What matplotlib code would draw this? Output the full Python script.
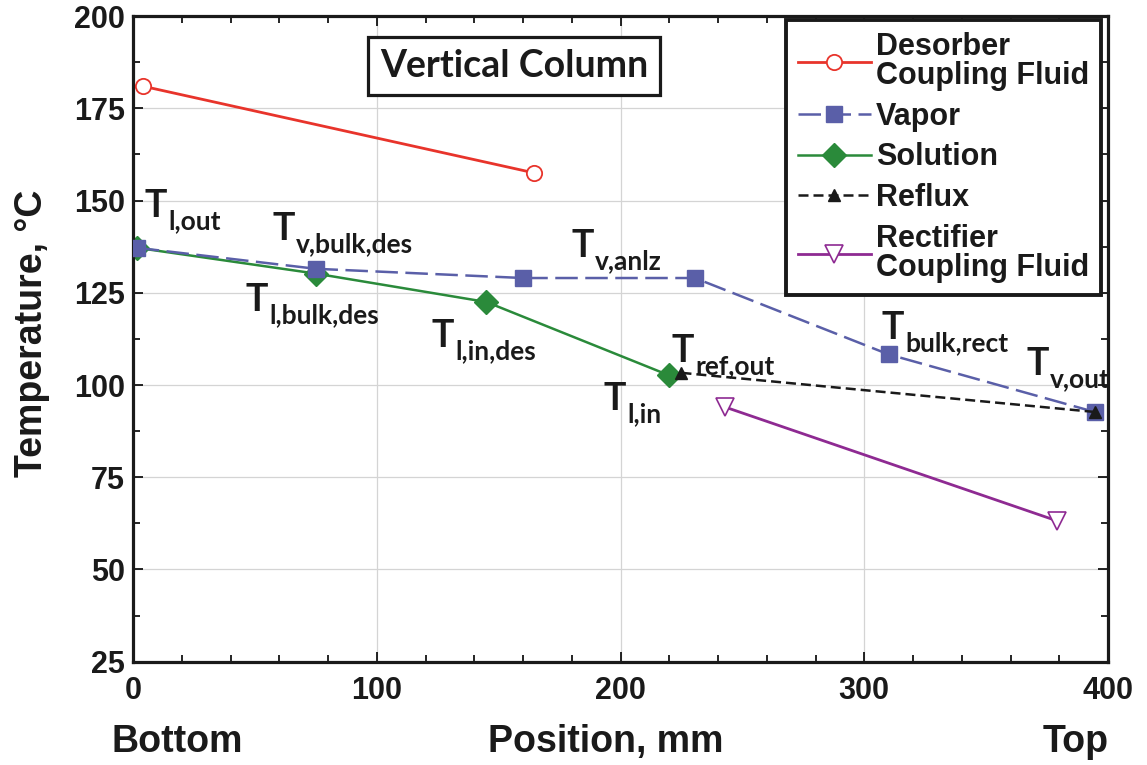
import matplotlib
matplotlib.use("Agg")
import matplotlib.pyplot as plt
from matplotlib.ticker import MultipleLocator
from matplotlib.transforms import offset_copy

plt.rcParams['font.family'] = ['Liberation Sans', 'DejaVu Sans']

# ---- data ----
des_x = [4, 164.5]
des_y = [181, 157.5]

vap_x = [1.5, 75, 160, 230.5, 310, 394.5]
vap_y = [137.2, 131.5, 129.0, 129.0, 108.3, 92.7]

sol_x = [1.5, 75, 145, 220]
sol_y = [137.2, 130.2, 122.5, 102.6]

ref_x = [225, 394.5]
ref_y = [103.3, 92.7]

rect_x = [243, 379]
rect_y = [94, 63.2]

labels = ["Desorber\nCoupling Fluid", "Vapor", "Solution", "Reflux",
          "Rectifier\nCoupling Fluid"]

ann_subs = ["l,out", "v,bulk,des", "l,bulk,des", "v,anlz", "l,in,des",
            "ref,out", "l,in", "bulk,rect", "v,out"]
ann_x = [4.9, 57.4, 46.3, 179.7, 122.6, 221.1, 193.2, 307.2, 366.7]
ann_y = [145.5, 139.3, 120.1, 134.7, 110.3, 106.2, 93.2, 112.5, 102.7]

xticks = [0, 100, 200, 300, 400]
yticks = [25, 50, 75, 100, 125, 150, 175, 200]

# ---- figure ----
fig = plt.figure(figsize=(11.47, 7.65), dpi=100)
ax = fig.add_axes([0.116, 0.135, 0.850, 0.844])

c_red = '#E8342B'
c_vap = '#5A5FA8'
c_sol = '#2A8A3A'
c_ref = '#1a1a1a'
c_rect = '#8E2A92'
ink = '#1a1a1a'

ax.plot(des_x, des_y, color=c_red, lw=2.0, marker='o', ms=11,
        mfc='white', mec=c_red, mew=1.3, label=labels[0], zorder=4)
ax.plot(vap_x, vap_y, color=c_vap, lw=1.8, dashes=(9, 3), marker='s', ms=11,
        mfc=c_vap, mec=c_vap, label=labels[1], zorder=3)
ax.plot(sol_x, sol_y, color=c_sol, lw=1.8, marker='D', ms=12,
        mfc=c_sol, mec=c_sol, label=labels[2], zorder=2)
ax.plot(ref_x, ref_y, color=c_ref, lw=1.8, dashes=(4, 2), marker='^', ms=8,
        mfc=c_ref, mec=c_ref, label=labels[3], zorder=5)
ax.plot(rect_x, rect_y, color=c_rect, lw=2.0, marker='v', ms=13,
        mfc='white', mec=c_rect, mew=1.2, label=labels[4], zorder=4)

ax.set_xlim(0, 400)
ax.set_ylim(25, 200)
ax.set_xticks(xticks)
ax.set_yticks(yticks)
ax.xaxis.set_minor_locator(MultipleLocator(20))
ax.yaxis.set_minor_locator(MultipleLocator(12.5))
ax.grid(True, which='major', color='#d4d4d4', lw=0.9)
ax.set_axisbelow(True)
ax.tick_params(which='both', direction='in', top=True, right=True)
ax.tick_params(which='major', length=7, width=1.2, labelsize=22, pad=6)
ax.tick_params(axis='x', which='major', pad=10)
ax.tick_params(which='minor', length=5, width=1.2)
for lab in ax.get_xticklabels() + ax.get_yticklabels():
    lab.set_fontweight('bold')
    lab.set_color(ink)
for sp in ax.spines.values():
    sp.set_linewidth(2.3)
    sp.set_color(ink)

# annotations: big "T" with a separate subscript text
renderer = fig.canvas.get_renderer()
for sub, x, y in zip(ann_subs, ann_x, ann_y):
    t = ax.text(x, y, "T", fontsize=27, family='Lato', fontweight='bold',
                ha='left', va='baseline', color=ink, zorder=6)
    w = t.get_window_extent(renderer).width
    tr = offset_copy(ax.transData, fig=fig, x=w + 1, y=-12, units='dots')
    ax.text(x, y, sub, fontsize=19, family='Lato', fontweight='bold',
            ha='left', va='baseline', color=ink, transform=tr, zorder=6)

ax.text(0.391, 0.922, "Vertical Column", transform=ax.transAxes, fontsize=27,
        family='Lato', fontweight='bold', ha='center', va='center', color=ink,
        bbox=dict(boxstyle='square,pad=0.32', fc='white', ec=ink, lw=2.3),
        zorder=6)

leg = ax.legend(loc='upper right', bbox_to_anchor=(0.993, 0.994), borderaxespad=0,
                prop={'weight': 'bold', 'size': 22}, handlelength=2.4,
                handletextpad=0.15, labelspacing=0.35, fancybox=False,
                framealpha=1, edgecolor=ink, borderpad=0.4)
leg.get_frame().set_linewidth(2.8)
for t in leg.get_texts():
    t.set_linespacing(0.95)
    t.set_color(ink)
leg.set_zorder(10)

fig.text(32 / 1147, 1 - 333 / 765, "Temperature, °C", rotation=90, fontsize=27,
         fontweight='bold', ha='center', va='center', color=ink)
fig.text(606 / 1147, 1 - 742 / 765, "Position, mm", fontsize=27,
         fontweight='bold', ha='center', va='center', color=ink)
fig.text(177 / 1147, 1 - 742 / 765, "Bottom", fontsize=27,
         fontweight='bold', ha='center', va='center', color=ink)
fig.text(1076 / 1147, 1 - 742 / 765, "Top", fontsize=27,
         fontweight='bold', ha='center', va='center', color=ink)

fig.savefig("out.png", dpi=100)
